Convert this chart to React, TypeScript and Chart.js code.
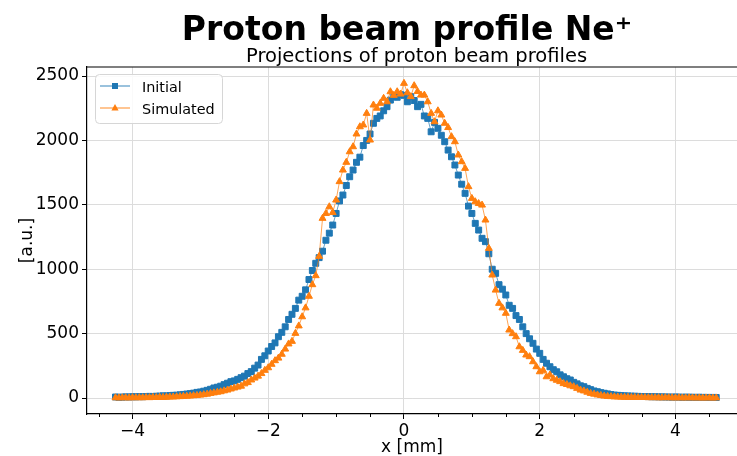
import React, { useEffect, useRef } from 'react';
import { Chart, registerables } from 'chart.js';

Chart.register(...registerables);

const FONT = "'DejaVu Sans', 'Liberation Sans', sans-serif";
const TITLE = 'Proton beam profile Ne\u207A';
const SUBTITLE = 'Projections of proton beam profiles';
const X_LABEL = 'x [mm]';
const Y_LABEL = '[a.u.]';
const SERIES_NAMES = ['Initial', 'Simulated'];

const xPositions = [
  -4.25, -4.2, -4.15, -4.1, -4.05, -4, -3.95, -3.9, -3.85, -3.8,
  -3.75, -3.7, -3.65, -3.6, -3.55, -3.5, -3.45, -3.4, -3.35, -3.3,
  -3.25, -3.2, -3.15, -3.1, -3.05, -3, -2.95, -2.9, -2.85, -2.8,
  -2.75, -2.7, -2.65, -2.6, -2.55, -2.5, -2.45, -2.4, -2.35, -2.3,
  -2.25, -2.2, -2.15, -2.1, -2.05, -2, -1.95, -1.9, -1.85, -1.8,
  -1.75, -1.7, -1.65, -1.6, -1.55, -1.5, -1.45, -1.4, -1.35, -1.3,
  -1.25, -1.2, -1.15, -1.1, -1.05, -1, -0.95, -0.9, -0.85, -0.8,
  -0.75, -0.7, -0.65, -0.6, -0.55, -0.5, -0.45, -0.4, -0.35, -0.3,
  -0.25, -0.2, -0.15, -0.1, -0.05, 0, 0.05, 0.1, 0.15, 0.2,
  0.25, 0.3, 0.35, 0.4, 0.45, 0.5, 0.55, 0.6, 0.65, 0.7,
  0.75, 0.8, 0.85, 0.9, 0.95, 1, 1.05, 1.1, 1.15, 1.2,
  1.25, 1.3, 1.35, 1.4, 1.45, 1.5, 1.55, 1.6, 1.65, 1.7,
  1.75, 1.8, 1.85, 1.9, 1.95, 2, 2.05, 2.1, 2.15, 2.2,
  2.25, 2.3, 2.35, 2.4, 2.45, 2.5, 2.55, 2.6, 2.65, 2.7,
  2.75, 2.8, 2.85, 2.9, 2.95, 3, 3.05, 3.1, 3.15, 3.2,
  3.25, 3.3, 3.35, 3.4, 3.45, 3.5, 3.55, 3.6, 3.65, 3.7,
  3.75, 3.8, 3.85, 3.9, 3.95, 4, 4.05, 4.1, 4.15, 4.2,
  4.25, 4.3, 4.35, 4.4, 4.45, 4.5, 4.55, 4.6,
];

const initialValues = [
  8, 6, 7, 9, 8, 10, 9, 11, 10, 12,
  13, 12, 14, 15, 17, 16, 19, 21, 22, 25,
  28, 31, 34, 38, 44, 47, 53, 60, 68, 78,
  84, 92, 104, 115, 127, 133, 145, 158, 170, 190,
  205, 232, 256, 300, 328, 365, 400, 428, 476, 510,
  553, 610, 650, 696, 760, 790, 840, 920, 990, 1046,
  1090, 1140, 1225, 1280, 1343, 1433, 1530, 1576, 1650, 1718,
  1770, 1830, 1870, 1960, 2000, 2050, 2133, 2171, 2190, 2230,
  2262, 2313, 2340, 2335, 2355, 2350, 2300, 2340, 2310, 2262,
  2280, 2190, 2171, 2067, 2140, 2094, 2040, 1990, 1925, 1873,
  1809, 1731, 1660, 1589, 1490, 1433, 1356, 1304, 1240, 1214,
  1120, 1000, 968, 880, 845, 800, 720, 696, 640, 610,
  553, 500, 460, 425, 380, 347, 300, 270, 243, 220,
  204, 180, 165, 150, 140, 122, 110, 95, 88, 75,
  65, 55, 49, 42, 37, 32, 27, 23, 21, 19,
  17, 16, 15, 14, 13, 12, 12, 11, 10, 10,
  9, 9, 8, 8, 7, 8, 7, 6, 7, 6,
  6, 5, 6, 5, 5, 4, 5, 4,
];

const simulatedValues = [
  2, 1, 2, 2, 1, 3, 2, 3, 2, 4,
  3, 5, 4, 6, 5, 7, 8, 8, 10, 11,
  13, 14, 16, 18, 20, 23, 26, 30, 36, 40,
  45, 49, 56, 62, 70, 78, 85, 92, 110, 120,
  140, 155, 170, 190, 215, 235, 262, 290, 310, 340,
  380, 420, 440, 502, 560, 631, 700, 790, 880, 950,
  1100, 1395, 1433, 1485, 1440, 1537, 1680, 1770, 1830, 1912,
  1951, 2050, 2106, 2120, 2210, 2003, 2275, 2250, 2288, 2327,
  2300, 2378, 2350, 2378, 2360, 2443, 2370, 2340, 2425, 2380,
  2352, 2352, 2300, 2210, 2145, 2230, 2197, 2133, 2100, 2029,
  1990, 1887, 1835, 1783, 1641, 1550, 1524, 1510, 1498, 1382,
  1162, 955, 838, 735, 700, 658, 528, 500, 476, 398,
  370, 334, 321, 282, 243, 204, 215, 165, 179, 150,
  138, 127, 112, 105, 95, 88, 75, 62, 55, 45,
  36, 30, 24, 20, 15, 12, 11, 9, 8, 7,
  6, 6, 5, 5, 4, 4, 4, 3, 3, 3,
  2, 2, 3, 2, 2, 1, 2, 1, 1, 2,
  1, 1, 1, 0, 1, 1, 0, 1,
];

const xMajorTicks = [-4, -2, 0, 2, 4];
const xMinorTicks = [-4.5, -3.5, -3, -2.5, -1.5, -1, -0.5, 0.5, 1, 1.5, 2.5, 3, 3.5, 4.5];
const yMajorTicks = [0, 500, 1000, 1500, 2000, 2500];

const BLUE = '#1f77b4';
const ORANGE = '#ff7f0e';

const fmt = (v: number) => (v < 0 ? '\u2212' + Math.abs(v) : String(v));

const decorPlugin = {
  id: 'decor',
  afterDraw(chart: any) {
    const { ctx, chartArea, scales } = chart;
    ctx.save();
    // top spine
    ctx.strokeStyle = '#000';
    ctx.lineWidth = 1.2;
    ctx.beginPath();
    ctx.moveTo(chartArea.left, chartArea.top);
    ctx.lineTo(chartArea.right, chartArea.top);
    ctx.stroke();
    // minor x ticks
    ctx.lineWidth = 1;
    xMinorTicks.forEach((v) => {
      const px = Math.round(scales.x.getPixelForValue(v)) + 0.5;
      if (px < chartArea.left || px > chartArea.right) return;
      ctx.beginPath();
      ctx.moveTo(px, chartArea.bottom);
      ctx.lineTo(px, chartArea.bottom + 3);
      ctx.stroke();
    });
    // titles
    ctx.fillStyle = '#000';
    ctx.textAlign = 'center';
    ctx.textBaseline = 'alphabetic';
    ctx.font = `bold 33px ${FONT}`;
    ctx.fillText(TITLE, 407, 40);
    ctx.font = `19.5px ${FONT}`;
    ctx.fillText(SUBTITLE, (chartArea.left + 746) / 2, 62);

    // legend
    const lx = chartArea.left + 8;
    const ly = chartArea.top + 7;
    const lw = 127;
    const lh = 49;
    ctx.beginPath();
    ctx.roundRect(lx + 0.5, ly + 0.5, lw, lh, 4);
    ctx.fillStyle = 'rgba(255,255,255,0.85)';
    ctx.fill();
    ctx.strokeStyle = '#d6d6d6';
    ctx.lineWidth = 1;
    ctx.stroke();
    const colors = [BLUE, ORANGE];
    SERIES_NAMES.forEach((name, i) => {
      const cy = ly + 12 + i * 22;
      ctx.strokeStyle = colors[i];
      ctx.globalAlpha = 0.75;
      ctx.lineWidth = 1.2;
      ctx.beginPath();
      ctx.moveTo(lx + 5, cy);
      ctx.lineTo(lx + 35, cy);
      ctx.stroke();
      ctx.globalAlpha = 1;
      ctx.fillStyle = colors[i];
      const mx = lx + 20;
      if (i === 0) {
        ctx.fillRect(mx - 3, cy - 3, 6, 6);
      } else {
        ctx.beginPath();
        ctx.moveTo(mx, cy - 4);
        ctx.lineTo(mx + 3.6, cy + 2.5);
        ctx.lineTo(mx - 3.6, cy + 2.5);
        ctx.closePath();
        ctx.fill();
      }
      ctx.fillStyle = '#000';
      ctx.textAlign = 'left';
      ctx.font = `14.4px ${FONT}`;
      ctx.fillText(name, lx + 47, cy + 5.5);
    });
    ctx.restore();
  },
};

export default function App() {
  const canvasRef = useRef<HTMLCanvasElement | null>(null);

  useEffect(() => {
    const canvas = canvasRef.current;
    if (!canvas) return;
    const chart = new Chart(canvas, {
      type: 'line',
      data: {
        datasets: [
          {
            label: SERIES_NAMES[0],
            data: xPositions.map((x, i) => ({ x, y: initialValues[i] })),
            borderColor: 'rgba(31,119,180,0.7)',
            borderWidth: 1,
            backgroundColor: BLUE,
            pointStyle: 'rect',
            pointRadius: 4.2,
            pointBorderWidth: 1,
            pointBorderColor: BLUE,
            pointBackgroundColor: BLUE,
            order: 1,
          },
          {
            label: SERIES_NAMES[1],
            data: xPositions.map((x, i) => ({ x, y: simulatedValues[i] })),
            borderColor: 'rgba(255,127,14,0.7)',
            borderWidth: 1,
            backgroundColor: ORANGE,
            pointStyle: 'triangle',
            pointRadius: 4,
            pointBorderWidth: 1,
            pointBorderColor: ORANGE,
            pointBackgroundColor: ORANGE,
            order: 0,
          },
        ],
      },
      options: {
        responsive: false,
        animation: false,
        devicePixelRatio: 1,
        layout: { autoPadding: false, padding: { top: 67, left: 0, right: 0, bottom: 0 } },
        plugins: {
          legend: { display: false },
          title: { display: false },
          tooltip: { enabled: false },
        },
        scales: {
          x: {
            type: 'linear',
            min: -4.67,
            max: 4.906,
            afterBuildTicks: (scale: any) => {
              scale.ticks = xMajorTicks.map((v) => ({ value: v }));
            },
            afterFit: (scale: any) => {
              scale.height = 42;
            },
            ticks: {
              callback: (v: any) => fmt(Number(v)),
              color: '#000',
              font: { family: FONT, size: 17 },
              padding: 2,
              maxRotation: 0,
            },
            grid: {
              color: '#dcdcdc',
              lineWidth: 1,
              tickColor: '#000',
              tickLength: 5,
              drawTicks: true,
            },
            border: { display: true, color: '#000', width: 1.2 },
            title: {
              display: true,
              text: X_LABEL,
              color: '#000',
              font: { family: FONT, size: 17, lineHeight: 1 },
              padding: { top: 0, bottom: 0 },
            },
          },
          y: {
            type: 'linear',
            min: -124,
            max: 2570,
            afterBuildTicks: (scale: any) => {
              scale.ticks = yMajorTicks.map((v) => ({ value: v }));
            },
            afterFit: (scale: any) => {
              scale.width = 87;
            },
            ticks: {
              callback: (v: any) => fmt(Number(v)),
              color: '#000',
              font: { family: FONT, size: 17 },
              padding: 3,
            },
            grid: {
              color: '#dcdcdc',
              lineWidth: 1,
              tickColor: '#000',
              tickLength: 5,
              drawTicks: true,
            },
            border: { display: true, color: '#000', width: 1.2 },
            title: {
              display: true,
              text: Y_LABEL,
              color: '#000',
              font: { family: FONT, size: 17 },
              padding: { top: 17, bottom: 0 },
            },
          },
        },
      },
      plugins: [decorPlugin],
    });
    return () => chart.destroy();
  }, []);

  return (
    <div style={{ position: 'fixed', left: 0, top: 0, width: 737, height: 456, background: '#fff' }}>
      <canvas ref={canvasRef} width={737} height={456} />
    </div>
  );
}
